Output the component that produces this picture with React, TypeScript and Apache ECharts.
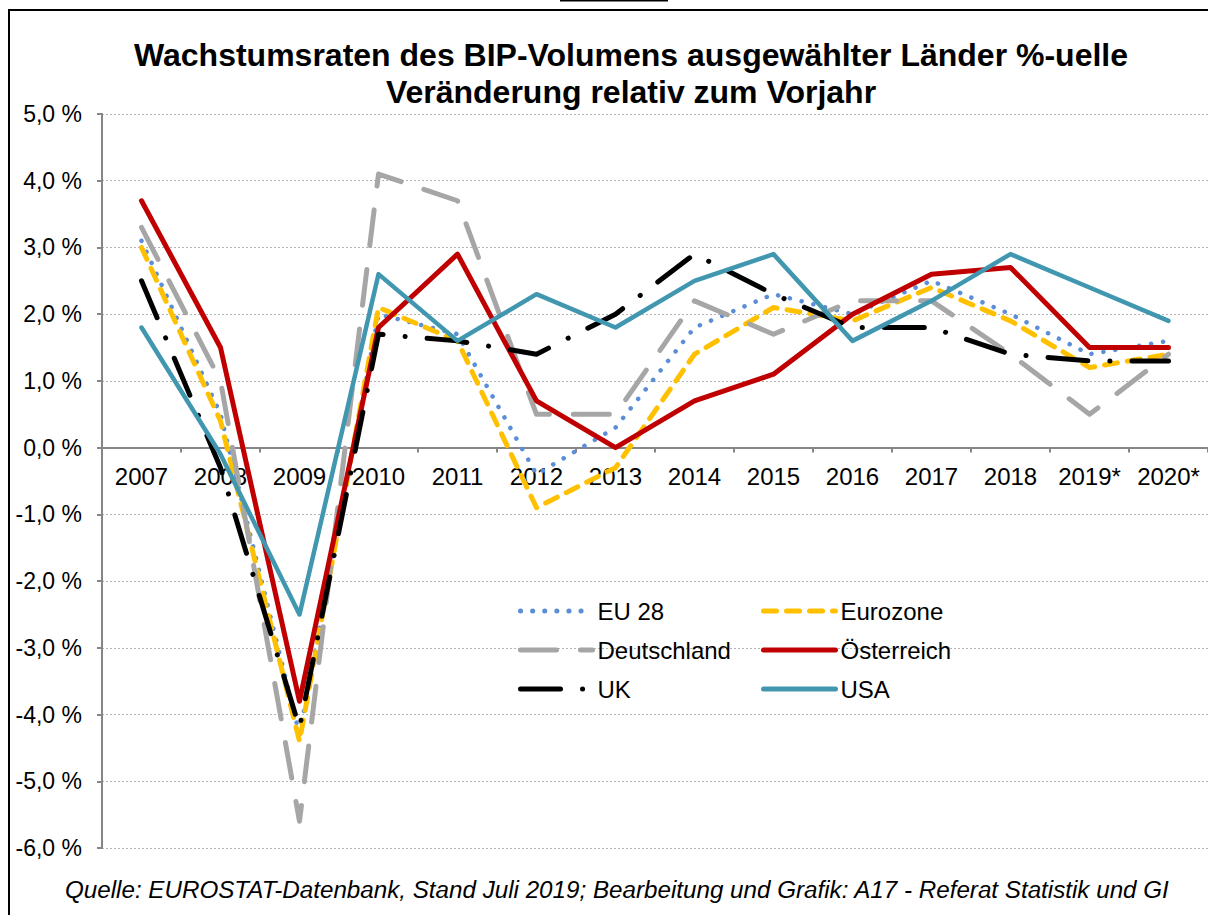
import React, { useEffect, useRef } from "react";
import * as echarts from "echarts";

const years = ["2007", "2008", "2009", "2010", "2011", "2012", "2013", "2014", "2015", "2016", "2017", "2018", "2019*", "2020*"];
const eu28 = [3.1, 0.5, -4.3, 2.0, 1.7, -0.4, 0.3, 1.8, 2.3, 2.0, 2.5, 2.0, 1.4, 1.6];
const eurozone = [3.0, 0.4, -4.4, 2.1, 1.6, -0.9, -0.3, 1.4, 2.1, 1.9, 2.4, 1.9, 1.2, 1.4];
const deutschland = [3.3, 1.0, -5.6, 4.1, 3.7, 0.5, 0.5, 2.2, 1.7, 2.2, 2.2, 1.4, 0.5, 1.4];
const oesterreich = [3.7, 1.5, -3.8, 1.8, 2.9, 0.7, 0.0, 0.7, 1.1, 2.0, 2.6, 2.7, 1.5, 1.5];
const uk = [2.5, -0.3, -4.2, 1.7, 1.6, 1.4, 2.0, 2.9, 2.3, 1.8, 1.8, 1.4, 1.3, 1.3];
const usa = [1.8, -0.1, -2.5, 2.6, 1.6, 2.3, 1.8, 2.5, 2.9, 1.6, 2.2, 2.9, 2.4, 1.9];

const titleLines = ["Wachstumsraten des BIP-Volumens ausgewählter Länder %-uelle", "Veränderung relativ zum Vorjahr"];
const footnote = "Quelle: EUROSTAT-Datenbank, Stand Juli 2019; Bearbeitung und Grafik: A17 - Referat Statistik und GI";

const FONT = '"Liberation Sans", Arial, sans-serif';

export default function App() {
  const ref = useRef<HTMLDivElement>(null);
  useEffect(() => {
    document.body.style.margin = "0";
    const chart = echarts.init(ref.current!, null, { renderer: "svg" });
    const mk = (name: string, data: number[], color: string, width: number, type: any) => ({
      name,
      type: "line",
      data,
      symbol: "none",
      showSymbol: false,
      lineStyle: { color, width, type, cap: "round", join: "round" },
      itemStyle: { color },
    });
    const legendText = { fontFamily: FONT, fontSize: 24, color: "#000", lineHeight: 24 };
    const legendBase = {
      orient: "vertical",
      top: 594,
      itemWidth: 72,
      itemHeight: 14,
      itemGap: 15,
      textStyle: legendText,
      itemStyle: { opacity: 0 },
      lineStyle: { width: 5, cap: "round" },
    };
    chart.setOption({
      animation: false,
      backgroundColor: "#fff",
      textStyle: { fontFamily: FONT },
      grid: { left: 102, top: 114, right: -8, bottom: 67 },
      legend: [
        { ...legendBase, data: ["EU 28", "Deutschland", "UK"], left: 513 },
        { ...legendBase, data: ["Eurozone", "Österreich", "USA"], left: 756 },
      ],
      xAxis: {
        type: "category",
        data: years,
        boundaryGap: true,
        offset: -400.4,
        axisLine: { onZero: false, lineStyle: { color: "#868686", width: 2 } },
        axisTick: { show: true, length: 5, inside: false, lineStyle: { color: "#868686", width: 2 } },
        axisLabel: { interval: 0, color: "#000", fontSize: 24, fontFamily: FONT, margin: 17 },
        splitLine: { show: false },
      },
      yAxis: {
        type: "value",
        min: -6,
        max: 5,
        interval: 1,
        axisLine: { show: true, lineStyle: { color: "#868686", width: 2 } },
        axisTick: { show: true, length: 5, lineStyle: { color: "#868686", width: 2 } },
        axisLabel: {
          color: "#000",
          fontSize: 23,
          fontFamily: FONT,
          margin: 20,
          formatter: (v: number) => v.toFixed(1).replace(".", ",") + " %",
        },
        splitLine: { show: true, lineStyle: { color: "#B4B4B4", width: 1, type: [2, 2] } },
      },
      series: [
        mk("EU 28", eu28, "#5B8ED6", 4.5, [0.1, 12]),
        mk("Eurozone", eurozone, "#FFC000", 5, [13, 10]),
        mk("Deutschland", deutschland, "#A6A6A6", 5, [36, 24]),
        mk("Österreich", oesterreich, "#C00000", 5, "solid"),
        mk("UK", uk, "#000000", 5, [40, 22, 0.1, 22]),
        mk("USA", usa, "#4297B0", 4.5, "solid"),
      ],
      graphic: [
        {
          type: "rect",
          silent: true,
          z: 100,
          shape: { x: 9, y: 10, width: 1300, height: 1000 },
          style: { fill: "none", stroke: "#000", lineWidth: 2 },
        },
        {
          type: "rect",
          silent: true,
          shape: { x: 560, y: 0, width: 108, height: 1.5 },
          style: { fill: "#000" },
        },
        ...titleLines.map((t, i) => ({
          type: "text",
          x: 631,
          y: 55 + i * 37,
          silent: true,
          style: {
            text: t,
            fontFamily: FONT,
            fontSize: 32,
            fontWeight: "bold",
            fill: "#000",
            textAlign: "center",
            textVerticalAlign: "middle",
            align: "center",
            verticalAlign: "middle",
          },
        })),
        {
          type: "text",
          x: 65,
          y: 889,
          silent: true,
          style: {
            text: footnote,
            fontFamily: FONT,
            fontSize: 24.2,
            fontStyle: "italic",
            fill: "#000",
            textAlign: "left",
            textVerticalAlign: "middle",
            align: "left",
            verticalAlign: "middle",
          },
        },
      ],
    });
    return () => chart.dispose();
  }, []);
  return <div ref={ref} style={{ width: 1208, height: 915 }} />;
}
